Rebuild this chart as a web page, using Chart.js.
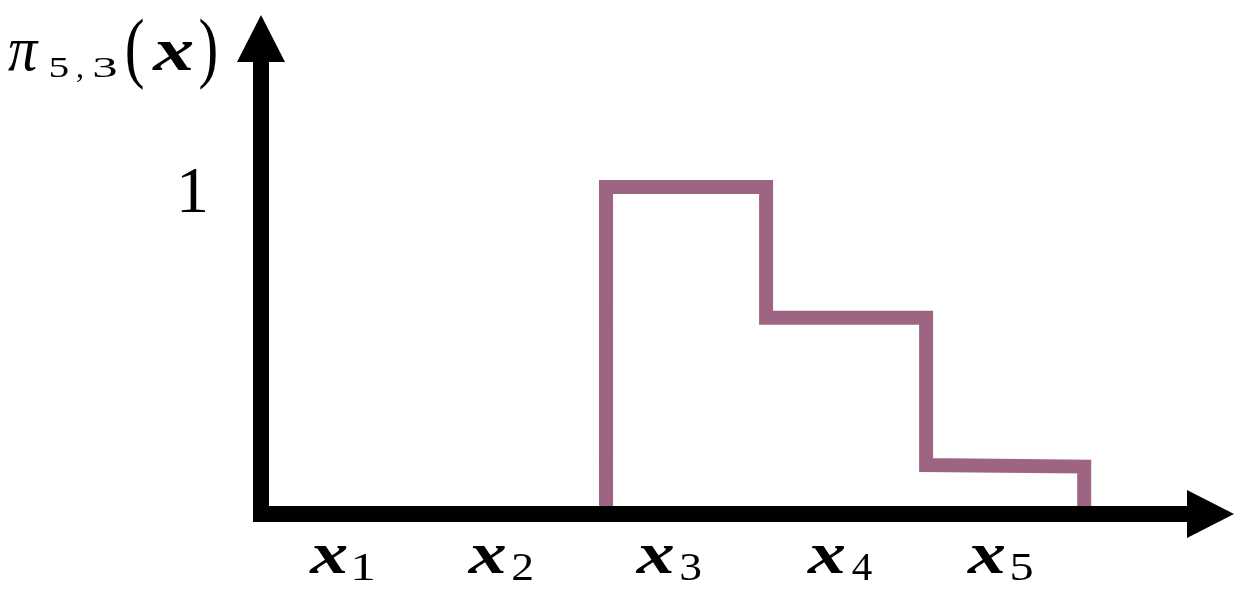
<!DOCTYPE html>
<html>
<head>
<meta charset="utf-8">
<script src="https://cdn.jsdelivr.net/npm/chart.js@4/dist/chart.umd.min.js"></script>
<style>
  html, body { margin: 0; padding: 0; background: #ffffff; }
  #wrap { width: 1248px; height: 596px; position: relative; }
</style>
</head>
<body>
<div id="wrap"><canvas id="c"></canvas></div>
<script>
// ---- data ----
const breaks = [2.156, 3.156, 4.156, 5.144];      // x where the step changes
const levelStart = [1, 0.6, 0.15];                 // level at left end of each step
const levelEnd = [1, 0.6, 0.145];                  // level at right end of each step
const tickPositions = [0.5, 1.49, 2.54, 3.61, 4.61];
const tickBase = ['x', 'x', 'x', 'x', 'x'];
const tickSub = ['1', '2', '3', '4', '5'];
const yTickValues = [1];
const yTickLabels = ['1'];
const yTitleParts = ['π', '5', ',', '3', '(', 'x', ')'];
const xMax = 6.08;
const yMax = 1.526;

// build step path points from the arrays
const points = [];
points.push({ x: breaks[0], y: 0 });
for (let i = 0; i < levelStart.length; i++) {
  points.push({ x: breaks[i], y: levelStart[i] });
  points.push({ x: breaks[i + 1], y: levelEnd[i] });
}
points.push({ x: breaks[breaks.length - 1], y: 0 });

const SERIF = '"Liberation Serif", "DejaVu Serif", serif';

// draw text so that its ink starts at `left` and optionally spans `inkWidth`
function drawInk(ctx, text, font, left, baseline, inkWidth) {
  ctx.save();
  ctx.font = font;
  ctx.textAlign = 'left';
  ctx.textBaseline = 'alphabetic';
  const m = ctx.measureText(text);
  const inkL = -m.actualBoundingBoxLeft;
  const w = m.actualBoundingBoxRight + m.actualBoundingBoxLeft;
  const sx = inkWidth ? inkWidth / w : 1;
  ctx.translate(left, baseline);
  ctx.scale(sx, 1);
  ctx.fillText(text, -inkL, 0);
  ctx.restore();
}

const axesPlugin = {
  id: 'axesPlugin',
  afterDatasetsDraw(chart) {
    const ctx = chart.ctx;
    const xs = chart.scales.x, ys = chart.scales.y;
    const x0 = xs.getPixelForValue(0);
    const y0 = ys.getPixelForValue(0);
    const xEnd = xs.getPixelForValue(xMax);
    const yTop = ys.getPixelForValue(yMax);
    const w = 16, half = w / 2;
    const arrowLen = 47, arrowHalf = 24;
    ctx.save();
    ctx.fillStyle = '#000000';
    // y axis bar + arrow
    ctx.fillRect(x0 - half, yTop + arrowLen - 1, w, (y0 + half) - (yTop + arrowLen - 1));
    ctx.beginPath();
    ctx.moveTo(x0, yTop);
    ctx.lineTo(x0 + arrowHalf, yTop + arrowLen);
    ctx.lineTo(x0 - arrowHalf, yTop + arrowLen);
    ctx.closePath();
    ctx.fill();
    // x axis bar + arrow
    ctx.fillRect(x0 - half, y0 - half, (xEnd - arrowLen + 1) - (x0 - half), w);
    ctx.beginPath();
    ctx.moveTo(xEnd, y0);
    ctx.lineTo(xEnd - arrowLen, y0 - arrowHalf);
    ctx.lineTo(xEnd - arrowLen, y0 + arrowHalf);
    ctx.closePath();
    ctx.fill();

    // x tick labels: bold italic base + upright subscript
    const baseFont = 'bold italic 60px ' + SERIF;
    const subFont = '41px ' + SERIF;
    tickPositions.forEach((v, i) => {
      const cx = xs.getPixelForValue(v);
      drawInk(ctx, tickBase[i], baseFont, cx - 32, y0 + 59, 38);
      drawInk(ctx, tickSub[i], subFont, cx + 13, y0 + 66, 20);
    });

    // y tick labels
    yTickValues.forEach((v, i) => {
      drawInk(ctx, yTickLabels[i], '66px ' + SERIF, x0 - 80, ys.getPixelForValue(v) + 25, 25);
    });

    // y axis title: π_{5,3}(x)
    const tb = 70;
    drawInk(ctx, yTitleParts[0], 'italic 64px ' + SERIF, 8, tb, 31);
    drawInk(ctx, yTitleParts[1], '30px ' + SERIF, 50, tb + 7, 18);
    drawInk(ctx, yTitleParts[2], '32px ' + SERIF, 77, tb + 7);
    drawInk(ctx, yTitleParts[3], '30px ' + SERIF, 94, tb + 7, 22);
    drawInk(ctx, yTitleParts[4], '78px ' + SERIF, 127, tb + 3, 16);
    drawInk(ctx, yTitleParts[5], 'bold italic 62px ' + SERIF, 152, tb, 41);
    drawInk(ctx, yTitleParts[6], '78px ' + SERIF, 200, tb + 3, 16);
    ctx.restore();
  }
};

new Chart(document.getElementById('c'), {
  type: 'line',
  data: {
    datasets: [{
      data: points,
      borderColor: '#9e6582',
      borderWidth: 14,
      borderJoinStyle: 'miter',
      borderCapStyle: 'butt',
      pointRadius: 0,
      fill: false,
      tension: 0
    }]
  },
  options: {
    responsive: true,
    maintainAspectRatio: false,
    animation: false,
    layout: { padding: { left: 261, right: 14, top: 15, bottom: 82 } },
    plugins: { legend: { display: false }, tooltip: { enabled: false } },
    scales: {
      x: { type: 'linear', min: 0, max: xMax, display: false },
      y: { type: 'linear', min: 0, max: yMax, display: false }
    }
  },
  plugins: [axesPlugin]
});
</script>
</body>
</html>
